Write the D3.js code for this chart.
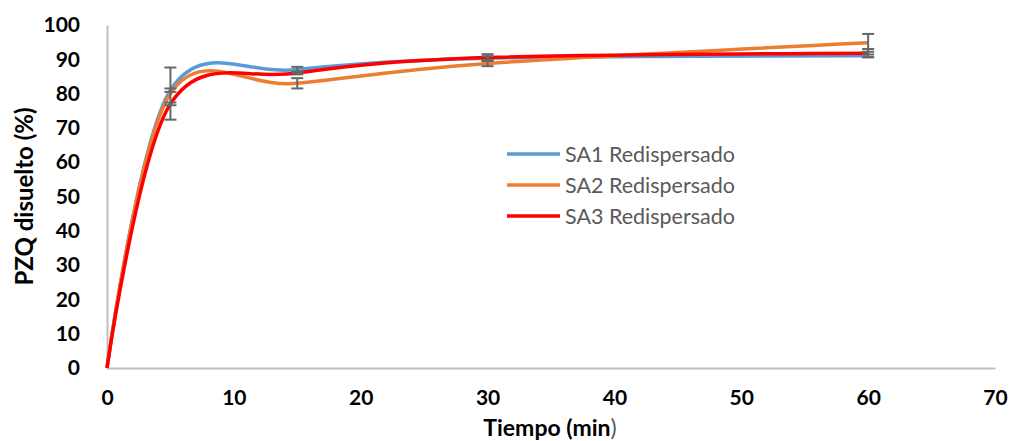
<!DOCTYPE html>
<html>
<head>
<meta charset="utf-8">
<script src="https://cdn.jsdelivr.net/npm/d3@7"></script>
<style>
  body { margin: 0; background: #fff; }
  svg { display: block; }
</style>
</head>
<body>
<div id="chart"></div>
<script>
// data
var tiempos = [0, 5, 15, 30, 60];
var sa1 = [0, 81, 87, 90.3, 91];
var sa2 = [0, 80, 83, 88.8, 94.8];
var sa3 = [0, 77, 86, 90.5, 91.8];
var err1 = [0, 0.5, 0.8, 0.6, 0.4];
var err2 = [0, 7.6, 1.5, 0.8, 2.6];
var err3 = [0, 0.4, 0.4, 1.0, 1.2];
var nombres = ["SA1 Redispersado", "SA2 Redispersado", "SA3 Redispersado"];
var xTicks = [0, 10, 20, 30, 40, 50, 60, 70];
var yTicks = [0, 10, 20, 30, 40, 50, 60, 70, 80, 90, 100];

var width = 1011, height = 441;
var margin = { top: 25, right: 16, bottom: 73, left: 107 };

var svg = d3.select("#chart").append("svg")
    .attr("width", width)
    .attr("height", height);

var x = d3.scaleLinear().domain([0, 70]).range([margin.left, width - margin.right]);
var y = d3.scaleLinear().domain([0, 100]).range([height - margin.bottom, margin.top]);

var font = "Lato, 'Open Sans', sans-serif";

// axes
var xAxis = svg.append("g")
    .attr("transform", "translate(0," + y(0) + ")")
    .call(d3.axisBottom(x).tickValues(xTicks).tickSize(0).tickPadding(22));
var yAxis = svg.append("g")
    .attr("transform", "translate(" + x(0) + ",0)")
    .call(d3.axisLeft(y).tickValues(yTicks).tickSize(0).tickPadding(27));

[xAxis, yAxis].forEach(function (g) {
    g.select(".domain").attr("stroke", "#bfbfbf").attr("stroke-width", 2);
    g.selectAll("text")
        .style("font-family", font)
        .style("font-weight", "bold")
        .style("font-size", "21px")
        .attr("fill", "#000");
});

var series = [
    { name: nombres[0], values: sa1, err: err1, color: "#5B9BD5" },
    { name: nombres[1], values: sa2, err: err2, color: "#ED7D31" },
    { name: nombres[2], values: sa3, err: err3, color: "#FF0000" }
];

var line = d3.line()
    .x(function (d) { return x(d[0]); })
    .y(function (d) { return y(d[1]); })
    .curve(d3.curveCatmullRom.alpha(0));

series.forEach(function (s) {
    svg.append("path")
        .datum(tiempos.map(function (t, i) { return [t, s.values[i]]; }))
        .attr("fill", "none")
        .attr("stroke", s.color)
        .attr("stroke-width", 3.5)
        .attr("d", line);
});

// error bars
series.forEach(function (s) {
    var g = svg.append("g").attr("stroke", "#666").attr("stroke-width", 2);
    tiempos.forEach(function (t, i) {
        if (s.err[i] <= 0) return;
        var cx = x(t), lo = y(s.values[i] - s.err[i]), hi = y(s.values[i] + s.err[i]);
        g.append("line").attr("x1", cx).attr("x2", cx).attr("y1", lo).attr("y2", hi);
        g.append("line").attr("x1", cx - 6).attr("x2", cx + 6).attr("y1", lo).attr("y2", lo);
        g.append("line").attr("x1", cx - 6).attr("x2", cx + 6).attr("y1", hi).attr("y2", hi);
    });
});

// legend
var legend = svg.append("g").attr("transform", "translate(507,154)");
series.forEach(function (s, i) {
    legend.append("line")
        .attr("x1", 0).attr("x2", 53)
        .attr("y1", i * 31).attr("y2", i * 31)
        .attr("stroke", s.color)
        .attr("stroke-width", 3.5);
    legend.append("text")
        .attr("x", 58)
        .attr("y", i * 31)
        .attr("dy", "0.35em")
        .style("font-family", font)
        .style("font-size", "21.5px")
        .attr("fill", "#595959")
        .text(s.name);
});

// axis titles
var xt = svg.append("text")
    .attr("x", 550)
    .attr("y", 436)
    .attr("text-anchor", "middle")
    .style("font-family", font)
    .style("font-size", "23px")
    .style("font-weight", "bold")
    .attr("fill", "#000");
xt.append("tspan").text("Tiempo (min");
xt.append("tspan").style("font-weight", "normal").attr("fill", "#595959").text(")");

svg.append("text")
    .attr("transform", "translate(25," + y(50) + ") rotate(-90)")
    .attr("text-anchor", "middle")
    .attr("dy", "0.35em")
    .style("font-family", font)
    .style("font-size", "24px")
    .style("font-weight", "bold")
    .attr("fill", "#000")
    .text("PZQ disuelto (%)");
</script>
</body>
</html>
